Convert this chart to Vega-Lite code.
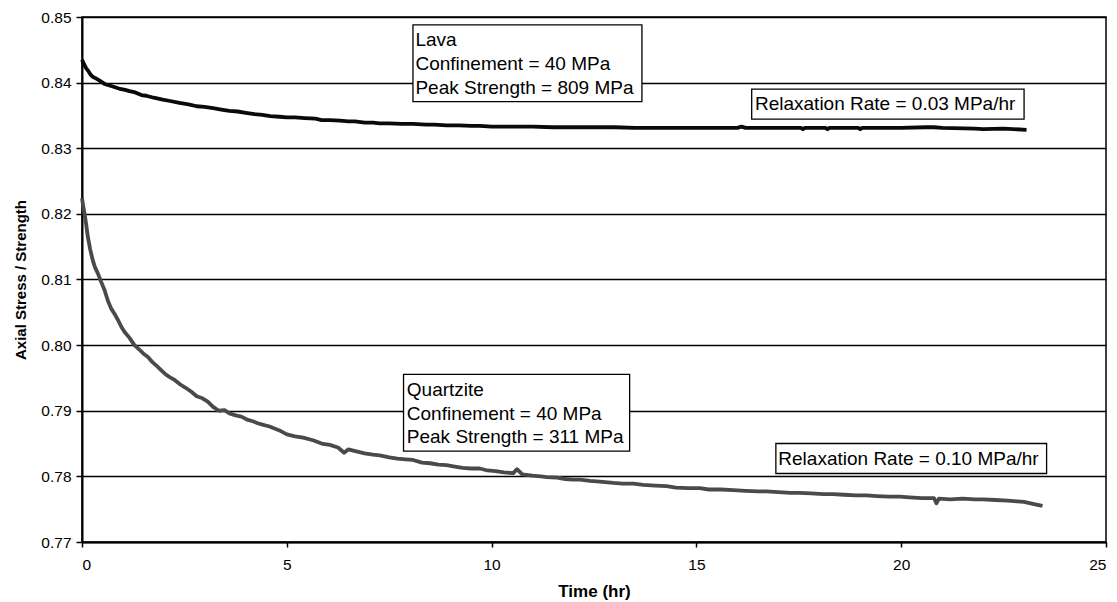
{
  "$schema": "https://vega.github.io/schema/vega-lite/v6.json",
  "autosize": {"type": "none"},
  "padding": {"left": 82, "top": 17, "right": 11, "bottom": 60},
  "width": 1024,
  "height": 525,
  "background": "white",
  "config": {
    "font": "Liberation Sans",
    "view": {"stroke": "#000", "strokeWidth": 1.5},
    "axis": {
      "domainColor": "#000", "domainWidth": 2,
      "tickColor": "#000", "tickWidth": 1.5,
      "labelColor": "#000", "labelFont": "Liberation Sans", "labelFontSize": 15.5,
      "titleColor": "#000", "titleFont": "Liberation Sans", "titleFontWeight": "bold"
    }
  },
  "datasets": {
    "curves": [
      {"series": "Lava", "t": 0, "v": 0.8435},
      {"series": "Lava", "t": 0.05, "v": 0.8428},
      {"series": "Lava", "t": 0.1, "v": 0.8422},
      {"series": "Lava", "t": 0.15, "v": 0.8418},
      {"series": "Lava", "t": 0.2, "v": 0.8413},
      {"series": "Lava", "t": 0.26, "v": 0.8409},
      {"series": "Lava", "t": 0.35, "v": 0.8406},
      {"series": "Lava", "t": 0.43, "v": 0.8403},
      {"series": "Lava", "t": 0.55, "v": 0.8398},
      {"series": "Lava", "t": 0.65, "v": 0.8396},
      {"series": "Lava", "t": 0.75, "v": 0.8394},
      {"series": "Lava", "t": 0.9, "v": 0.8391},
      {"series": "Lava", "t": 1.05, "v": 0.8389},
      {"series": "Lava", "t": 1.16, "v": 0.8387},
      {"series": "Lava", "t": 1.3, "v": 0.8385},
      {"series": "Lava", "t": 1.45, "v": 0.8381},
      {"series": "Lava", "t": 1.57, "v": 0.8380},
      {"series": "Lava", "t": 1.75, "v": 0.8377},
      {"series": "Lava", "t": 1.97, "v": 0.8374},
      {"series": "Lava", "t": 2.15, "v": 0.8372},
      {"series": "Lava", "t": 2.38, "v": 0.8369},
      {"series": "Lava", "t": 2.6, "v": 0.8367},
      {"series": "Lava", "t": 2.8, "v": 0.8364},
      {"series": "Lava", "t": 2.99, "v": 0.8363},
      {"series": "Lava", "t": 3.2, "v": 0.8361},
      {"series": "Lava", "t": 3.4, "v": 0.8359},
      {"series": "Lava", "t": 3.6, "v": 0.8357},
      {"series": "Lava", "t": 3.8, "v": 0.8356},
      {"series": "Lava", "t": 4.0, "v": 0.8354},
      {"series": "Lava", "t": 4.21, "v": 0.8352},
      {"series": "Lava", "t": 4.4, "v": 0.8351},
      {"series": "Lava", "t": 4.6, "v": 0.8349},
      {"series": "Lava", "t": 4.82, "v": 0.8348},
      {"series": "Lava", "t": 5.0, "v": 0.8347},
      {"series": "Lava", "t": 5.2, "v": 0.8347},
      {"series": "Lava", "t": 5.44, "v": 0.8346},
      {"series": "Lava", "t": 5.7, "v": 0.8345},
      {"series": "Lava", "t": 5.85, "v": 0.8343},
      {"series": "Lava", "t": 6.05, "v": 0.8343},
      {"series": "Lava", "t": 6.3, "v": 0.8342},
      {"series": "Lava", "t": 6.5, "v": 0.8341},
      {"series": "Lava", "t": 6.66, "v": 0.8341},
      {"series": "Lava", "t": 6.9, "v": 0.8339},
      {"series": "Lava", "t": 7.1, "v": 0.8339},
      {"series": "Lava", "t": 7.27, "v": 0.8338},
      {"series": "Lava", "t": 7.5, "v": 0.8338},
      {"series": "Lava", "t": 7.8, "v": 0.8337},
      {"series": "Lava", "t": 8.08, "v": 0.8337},
      {"series": "Lava", "t": 8.4, "v": 0.8336},
      {"series": "Lava", "t": 8.6, "v": 0.8336},
      {"series": "Lava", "t": 8.9, "v": 0.8335},
      {"series": "Lava", "t": 9.2, "v": 0.8335},
      {"series": "Lava", "t": 9.5, "v": 0.8334},
      {"series": "Lava", "t": 9.71, "v": 0.8334},
      {"series": "Lava", "t": 10.0, "v": 0.8333},
      {"series": "Lava", "t": 10.5, "v": 0.8333},
      {"series": "Lava", "t": 11.0, "v": 0.8333},
      {"series": "Lava", "t": 11.5, "v": 0.8332},
      {"series": "Lava", "t": 12.0, "v": 0.8332},
      {"series": "Lava", "t": 12.5, "v": 0.8332},
      {"series": "Lava", "t": 13.0, "v": 0.8332},
      {"series": "Lava", "t": 13.5, "v": 0.8331},
      {"series": "Lava", "t": 14.0, "v": 0.8331},
      {"series": "Lava", "t": 14.5, "v": 0.8331},
      {"series": "Lava", "t": 15.0, "v": 0.8331},
      {"series": "Lava", "t": 15.5, "v": 0.8331},
      {"series": "Lava", "t": 16.0, "v": 0.8331},
      {"series": "Lava", "t": 16.1, "v": 0.8333},
      {"series": "Lava", "t": 16.2, "v": 0.8331},
      {"series": "Lava", "t": 17.0, "v": 0.8331},
      {"series": "Lava", "t": 17.55, "v": 0.8331},
      {"series": "Lava", "t": 17.6, "v": 0.8329},
      {"series": "Lava", "t": 17.65, "v": 0.8331},
      {"series": "Lava", "t": 18.15, "v": 0.8331},
      {"series": "Lava", "t": 18.2, "v": 0.8329},
      {"series": "Lava", "t": 18.25, "v": 0.8331},
      {"series": "Lava", "t": 18.95, "v": 0.8331},
      {"series": "Lava", "t": 19.0, "v": 0.8329},
      {"series": "Lava", "t": 19.05, "v": 0.8331},
      {"series": "Lava", "t": 20.0, "v": 0.8331},
      {"series": "Lava", "t": 20.6, "v": 0.8332},
      {"series": "Lava", "t": 20.8, "v": 0.8332},
      {"series": "Lava", "t": 21.0, "v": 0.8331},
      {"series": "Lava", "t": 21.8, "v": 0.8330},
      {"series": "Lava", "t": 22.0, "v": 0.8329},
      {"series": "Lava", "t": 22.5, "v": 0.8330},
      {"series": "Lava", "t": 23.06, "v": 0.8328},
      {"series": "Quartzite", "t": 0, "v": 0.8224},
      {"series": "Quartzite", "t": 0.03, "v": 0.8212},
      {"series": "Quartzite", "t": 0.06, "v": 0.8201},
      {"series": "Quartzite", "t": 0.1, "v": 0.8185},
      {"series": "Quartzite", "t": 0.14, "v": 0.8166},
      {"series": "Quartzite", "t": 0.2, "v": 0.8146},
      {"series": "Quartzite", "t": 0.26, "v": 0.8130},
      {"series": "Quartzite", "t": 0.32, "v": 0.8118},
      {"series": "Quartzite", "t": 0.39, "v": 0.8109},
      {"series": "Quartzite", "t": 0.47, "v": 0.8096},
      {"series": "Quartzite", "t": 0.55, "v": 0.8084},
      {"series": "Quartzite", "t": 0.63, "v": 0.8068},
      {"series": "Quartzite", "t": 0.71, "v": 0.8056},
      {"series": "Quartzite", "t": 0.8, "v": 0.8047},
      {"series": "Quartzite", "t": 0.88, "v": 0.8038},
      {"series": "Quartzite", "t": 0.96, "v": 0.8028},
      {"series": "Quartzite", "t": 1.04, "v": 0.8020},
      {"series": "Quartzite", "t": 1.16, "v": 0.8011},
      {"series": "Quartzite", "t": 1.28, "v": 0.8000},
      {"series": "Quartzite", "t": 1.4, "v": 0.7993},
      {"series": "Quartzite", "t": 1.52, "v": 0.7986},
      {"series": "Quartzite", "t": 1.61, "v": 0.7982},
      {"series": "Quartzite", "t": 1.72, "v": 0.7974},
      {"series": "Quartzite", "t": 1.83, "v": 0.7968},
      {"series": "Quartzite", "t": 1.93, "v": 0.7962},
      {"series": "Quartzite", "t": 2.05, "v": 0.7955},
      {"series": "Quartzite", "t": 2.15, "v": 0.7951},
      {"series": "Quartzite", "t": 2.26, "v": 0.7947},
      {"series": "Quartzite", "t": 2.4, "v": 0.7940},
      {"series": "Quartzite", "t": 2.53, "v": 0.7935},
      {"series": "Quartzite", "t": 2.67, "v": 0.7929},
      {"series": "Quartzite", "t": 2.8, "v": 0.7922},
      {"series": "Quartzite", "t": 2.94, "v": 0.7919},
      {"series": "Quartzite", "t": 3.07, "v": 0.7914},
      {"series": "Quartzite", "t": 3.2, "v": 0.7906},
      {"series": "Quartzite", "t": 3.34, "v": 0.7900},
      {"series": "Quartzite", "t": 3.48, "v": 0.7901},
      {"series": "Quartzite", "t": 3.6, "v": 0.7896},
      {"series": "Quartzite", "t": 3.75, "v": 0.7893},
      {"series": "Quartzite", "t": 3.89, "v": 0.7891},
      {"series": "Quartzite", "t": 4.05, "v": 0.7886},
      {"series": "Quartzite", "t": 4.17, "v": 0.7884},
      {"series": "Quartzite", "t": 4.29, "v": 0.7881},
      {"series": "Quartzite", "t": 4.45, "v": 0.7878},
      {"series": "Quartzite", "t": 4.58, "v": 0.7876},
      {"series": "Quartzite", "t": 4.7, "v": 0.7873},
      {"series": "Quartzite", "t": 4.82, "v": 0.7870},
      {"series": "Quartzite", "t": 5.0, "v": 0.7864},
      {"series": "Quartzite", "t": 5.2, "v": 0.7861},
      {"series": "Quartzite", "t": 5.4, "v": 0.7859},
      {"series": "Quartzite", "t": 5.64, "v": 0.7855},
      {"series": "Quartzite", "t": 5.85, "v": 0.7850},
      {"series": "Quartzite", "t": 6.05, "v": 0.7848},
      {"series": "Quartzite", "t": 6.25, "v": 0.7844},
      {"series": "Quartzite", "t": 6.4, "v": 0.7836},
      {"series": "Quartzite", "t": 6.5, "v": 0.7841},
      {"series": "Quartzite", "t": 6.7, "v": 0.7838},
      {"series": "Quartzite", "t": 6.9, "v": 0.7835},
      {"series": "Quartzite", "t": 7.1, "v": 0.7833},
      {"series": "Quartzite", "t": 7.27, "v": 0.7832},
      {"series": "Quartzite", "t": 7.5, "v": 0.7829},
      {"series": "Quartzite", "t": 7.7, "v": 0.7827},
      {"series": "Quartzite", "t": 7.9, "v": 0.7826},
      {"series": "Quartzite", "t": 8.08, "v": 0.7825},
      {"series": "Quartzite", "t": 8.3, "v": 0.7821},
      {"series": "Quartzite", "t": 8.5, "v": 0.7820},
      {"series": "Quartzite", "t": 8.7, "v": 0.7818},
      {"series": "Quartzite", "t": 8.9, "v": 0.7817},
      {"series": "Quartzite", "t": 9.1, "v": 0.7815},
      {"series": "Quartzite", "t": 9.3, "v": 0.7813},
      {"series": "Quartzite", "t": 9.5, "v": 0.7812},
      {"series": "Quartzite", "t": 9.71, "v": 0.7812},
      {"series": "Quartzite", "t": 9.9, "v": 0.7809},
      {"series": "Quartzite", "t": 10.1, "v": 0.7808},
      {"series": "Quartzite", "t": 10.3, "v": 0.7806},
      {"series": "Quartzite", "t": 10.53, "v": 0.7805},
      {"series": "Quartzite", "t": 10.62, "v": 0.7811},
      {"series": "Quartzite", "t": 10.75, "v": 0.7803},
      {"series": "Quartzite", "t": 11.0, "v": 0.7801},
      {"series": "Quartzite", "t": 11.2, "v": 0.7800},
      {"series": "Quartzite", "t": 11.34, "v": 0.7799},
      {"series": "Quartzite", "t": 11.6, "v": 0.7798},
      {"series": "Quartzite", "t": 11.8, "v": 0.7796},
      {"series": "Quartzite", "t": 12.0, "v": 0.7795},
      {"series": "Quartzite", "t": 12.16, "v": 0.7795},
      {"series": "Quartzite", "t": 12.4, "v": 0.7793},
      {"series": "Quartzite", "t": 12.64, "v": 0.7792},
      {"series": "Quartzite", "t": 12.97, "v": 0.7790},
      {"series": "Quartzite", "t": 13.2, "v": 0.7789},
      {"series": "Quartzite", "t": 13.46, "v": 0.7789},
      {"series": "Quartzite", "t": 13.7, "v": 0.7787},
      {"series": "Quartzite", "t": 14.0, "v": 0.7786},
      {"series": "Quartzite", "t": 14.27, "v": 0.7785},
      {"series": "Quartzite", "t": 14.5, "v": 0.7783},
      {"series": "Quartzite", "t": 14.8, "v": 0.7782},
      {"series": "Quartzite", "t": 15.08, "v": 0.7782},
      {"series": "Quartzite", "t": 15.3, "v": 0.7780},
      {"series": "Quartzite", "t": 15.6, "v": 0.7780},
      {"series": "Quartzite", "t": 15.9, "v": 0.7779},
      {"series": "Quartzite", "t": 16.2, "v": 0.7778},
      {"series": "Quartzite", "t": 16.5, "v": 0.7777},
      {"series": "Quartzite", "t": 16.71, "v": 0.7777},
      {"series": "Quartzite", "t": 17.0, "v": 0.7776},
      {"series": "Quartzite", "t": 17.3, "v": 0.7775},
      {"series": "Quartzite", "t": 17.52, "v": 0.7775},
      {"series": "Quartzite", "t": 17.8, "v": 0.7774},
      {"series": "Quartzite", "t": 18.1, "v": 0.7773},
      {"series": "Quartzite", "t": 18.34, "v": 0.7773},
      {"series": "Quartzite", "t": 18.6, "v": 0.7772},
      {"series": "Quartzite", "t": 18.9, "v": 0.7771},
      {"series": "Quartzite", "t": 19.15, "v": 0.7771},
      {"series": "Quartzite", "t": 19.4, "v": 0.7770},
      {"series": "Quartzite", "t": 19.7, "v": 0.7769},
      {"series": "Quartzite", "t": 19.97, "v": 0.7769},
      {"series": "Quartzite", "t": 20.2, "v": 0.7768},
      {"series": "Quartzite", "t": 20.5, "v": 0.7767},
      {"series": "Quartzite", "t": 20.8, "v": 0.7767},
      {"series": "Quartzite", "t": 20.86, "v": 0.7759},
      {"series": "Quartzite", "t": 20.92, "v": 0.7766},
      {"series": "Quartzite", "t": 21.2, "v": 0.7765},
      {"series": "Quartzite", "t": 21.5, "v": 0.7766},
      {"series": "Quartzite", "t": 21.8, "v": 0.7765},
      {"series": "Quartzite", "t": 22.0, "v": 0.7765},
      {"series": "Quartzite", "t": 22.3, "v": 0.7764},
      {"series": "Quartzite", "t": 22.6, "v": 0.7763},
      {"series": "Quartzite", "t": 22.83, "v": 0.7762},
      {"series": "Quartzite", "t": 23.0, "v": 0.7761},
      {"series": "Quartzite", "t": 23.16, "v": 0.7759},
      {"series": "Quartzite", "t": 23.3, "v": 0.7757},
      {"series": "Quartzite", "t": 23.45, "v": 0.7755}
    ],
    "notes": [
      {"x": 8.08, "x2": 13.67, "y": 0.8488, "y2": 0.8371, "tx": 8.14, "ty": 0.84643, "label": "Lava\nConfinement = 40 MPa\nPeak Strength = 809 MPa"},
      {"x": 16.35, "x2": 23.0, "y": 0.8390, "y2": 0.83444, "tx": 16.43, "ty": 0.83673, "label": "Relaxation Rate = 0.03 MPa/hr"},
      {"x": 7.85, "x2": 13.37, "y": 0.79554, "y2": 0.78384, "tx": 7.93, "ty": 0.79314, "label": "Quartzite\nConfinement = 40 MPa\nPeak Strength = 311 MPa"},
      {"x": 16.94, "x2": 23.55, "y": 0.78501, "y2": 0.78044, "tx": 17.0, "ty": 0.78272, "label": "Relaxation Rate = 0.10 MPa/hr"}
    ]
  },
  "layer": [
    {
      "data": {"name": "curves"},
      "mark": {"type": "line", "strokeWidth": 3.8, "strokeJoin": "round"},
      "encoding": {
        "x": {
          "field": "t", "type": "quantitative",
          "scale": {"domain": [0, 25], "nice": false, "zero": false},
          "axis": {
            "title": "Time (hr)", "titleFontSize": 17, "titlePadding": 11,
            "values": [0, 5, 10, 15, 20, 25], "grid": false,
            "tickSize": 5, "labelPadding": 10, "format": "d"
          }
        },
        "y": {
          "field": "v", "type": "quantitative",
          "scale": {"domain": [0.77, 0.85], "nice": false, "zero": false},
          "axis": {
            "title": "Axial Stress / Strength", "titleFontSize": 15, "titlePadding": 12,
            "values": [0.77, 0.78, 0.79, 0.8, 0.81, 0.82, 0.83, 0.84, 0.85],
            "format": ".2f", "grid": true, "gridColor": "#000", "gridWidth": 1.5, "gridOpacity": 1,
            "tickSize": 6, "labelPadding": 5
          }
        },
        "color": {
          "field": "series", "type": "nominal",
          "scale": {"domain": ["Lava", "Quartzite"], "range": ["#0a0a0a", "#4a4a4a"]},
          "legend": null
        },
        "order": {"field": "t", "type": "quantitative"}
      }
    },
    {
      "data": {"name": "notes"},
      "mark": {"type": "rect", "fill": "white", "stroke": "#000", "strokeWidth": 1.3},
      "encoding": {
        "x": {"field": "x", "type": "quantitative"},
        "x2": {"field": "x2"},
        "y": {"field": "y", "type": "quantitative"},
        "y2": {"field": "y2"}
      }
    },
    {
      "data": {"name": "notes"},
      "mark": {"type": "text", "align": "left", "baseline": "middle", "fontSize": 19, "lineBreak": "\n", "lineHeight": 23.6, "color": "#000", "font": "Liberation Sans"},
      "encoding": {
        "x": {"field": "tx", "type": "quantitative"},
        "y": {"field": "ty", "type": "quantitative"},
        "text": {"field": "label"}
      }
    }
  ]
}
